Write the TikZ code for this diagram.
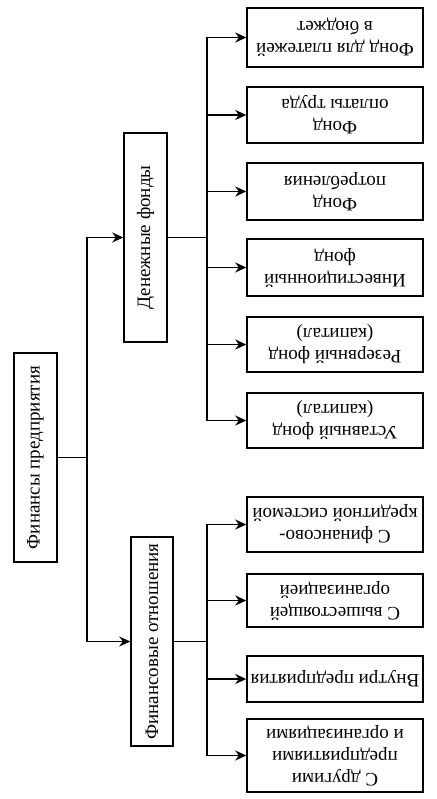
\documentclass[tikz,border=0pt]{standalone}
\usepackage{fontspec}
\setmainfont{Liberation Serif}
\usetikzlibrary{positioning,arrows.meta}

\begin{document}
\begin{tikzpicture}[x=1pt, y=-1pt,
            arrowstyle/.style={-{Stealth[length=11pt, width=10pt]}, line width=1.5pt},
            linestyle/.style={line width=1.5pt}]
            % Box styles
            \tikzstyle{boxnode} = [draw, line width=1.5pt, rectangle, align=center, inner sep=1pt,
                                   font=\fontsize{19}{22}\selectfont]
            \tikzstyle{sidenode} = [boxnode, rotate=90, minimum width=209pt, minimum height=43pt]
            \tikzstyle{leafnode} = [boxnode, rotate=180, minimum width=176pt]
            \useasboundingbox (0,0) rectangle (436,799);

            % Left column
            \node (fin) [sidenode] at (35.5,457.5) {Финансы предприятия};
            \node (fund) [sidenode] at (145.5,237.5) {Денежные фонды};
            \node (rel) [sidenode, minimum height=42pt] at (152,641.5) {Финансовые отношения};

            % Money funds
            \node (tax) [leafnode, minimum height=59pt] at (335,37.5) {Фонд для платежей\\в бюджет};
            \node (wage) [leafnode, minimum height=56pt] at (335,115) {Фонд\\оплаты труда};
            \node (cons) [leafnode, minimum height=57pt] at (335,191.5) {Фонд\\потребления};
            \node (inv) [leafnode, minimum height=57pt] at (335,267.5) {Инвестиционный\\фонд};
            \node (res) [leafnode, minimum height=55pt] at (335,344.5) {Резервный фонд\\(капитал)};
            \node (cap) [leafnode, minimum height=55pt] at (335,420.5) {Уставный фонд\\(капитал)};

            % Financial relations
            \node (bank) [leafnode, minimum height=55pt] at (335,524.5) {С финансово-\\кредитной системой};
            \node (head) [leafnode, minimum height=53pt] at (335,600.5) {С вышестоящей\\организацией};
            \node (inside) [leafnode, minimum height=46pt] at (335,679) {Внутри предприятия};
            \node (other) [leafnode, minimum height=73pt] at (335,755.5) {С другими\\предприятиями\\и организациями};

            % Junction points
            \coordinate (jfin) at (87,457.5);
            \coordinate (jfund) at (207,237.5);
            \coordinate (jrel) at (207,641.5);

            % Draw the connectors
            \draw [linestyle] (fin) -- (jfin);
            \draw [arrowstyle] (jfin) |- (fund);
            \draw [arrowstyle] (jfin) |- (rel);

            \draw [linestyle] (fund) -- (jfund);
            \draw [arrowstyle] (jfund) |- (tax);
            \draw [arrowstyle] (jfund) |- (wage);
            \draw [arrowstyle] (jfund) |- (cons);
            \draw [arrowstyle] (jfund) |- (inv);
            \draw [arrowstyle] (jfund) |- (res);
            \draw [arrowstyle] (jfund) |- (cap);

            \draw [linestyle] (rel) -- (jrel);
            \draw [arrowstyle] (jrel) |- (bank);
            \draw [arrowstyle] (jrel) |- (head);
            \draw [arrowstyle] (jrel) |- (inside);
            \draw [arrowstyle] (jrel) |- (other);
\end{tikzpicture}
\end{document}
